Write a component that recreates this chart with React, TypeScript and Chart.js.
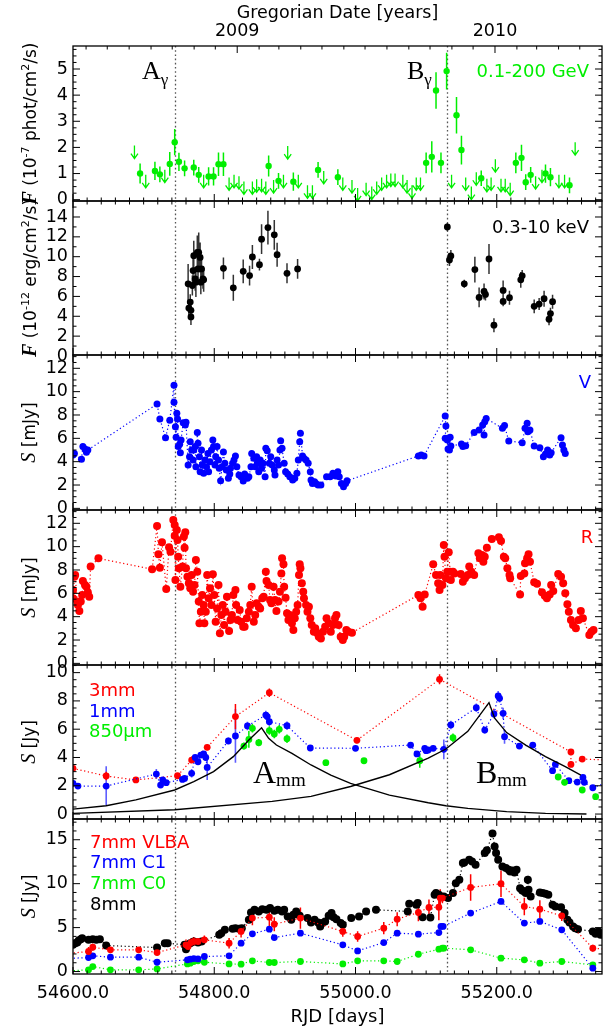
import { useEffect, useRef } from 'react';
import { Chart, registerables } from 'chart.js';

Chart.register(...registerables);

// ---------------- axes / ticks ----------------
const X_MIN = 54600;
const X_MAX = 55349;
const X_MAJOR_TICKS = [54600, 54800, 55000, 55200];
const X_MINOR_STEP = 20;
const YEAR_TICKS = [54832.5, 55197.5];
const YEAR_LABELS = ['2009', '2010'];
const MONTH_TICKS = [54618.5, 54648.5, 54679.5, 54710.5, 54740.5, 54771.5, 54801.5, 54832.5, 54863.5, 54891.5, 54922.5, 54952.5, 54983.5, 55013.5, 55044.5, 55075.5, 55105.5, 55136.5, 55166.5, 55197.5, 55228.5, 55256.5, 55287.5, 55317.5];
const FLARE_DAYS = [54745, 55129];

// ---------------- panel 1: gamma rays 0.1-200 GeV ----------------
const gamDetX = [54695, 54716, 54723, 54737, 54744, 54750, 54758, 54771, 54778, 54792, 54799, 54806, 54813, 54877, 54891, 54912, 54947, 54975, 55100, 55108, 55114, 55121, 55129, 55143, 55150, 55178, 55227, 55235, 55241, 55248, 55269, 55276, 55303];
const gamDetY = [1.0, 1.1, 0.97, 1.37, 2.2, 1.45, 1.2, 1.23, 0.95, 0.89, 0.89, 1.36, 1.36, 1.29, 0.72, 0.69, 1.14, 0.86, 1.41, 1.64, 4.18, 1.41, 4.92, 3.23, 1.9, 0.82, 1.41, 1.6, 0.67, 0.95, 1.0, 0.86, 0.55];
const gamDetErr = [0.38, 0.35, 0.3, 0.45, 0.5, 0.35, 0.3, 0.3, 0.3, 0.35, 0.35, 0.45, 0.45, 0.4, 0.3, 0.35, 0.3, 0.3, 0.4, 0.6, 0.7, 0.4, 0.7, 0.7, 0.55, 0.3, 0.4, 0.5, 0.3, 0.3, 0.35, 0.35, 0.3];
const gamUlX = [54687, 54703, 54730, 54785, 54821, 54828, 54835, 54842, 54854, 54860, 54867, 54873, 54884, 54898, 54904, 54919, 54932, 54939, 54955, 54982, 54995, 55003, 55015, 55023, 55030, 55037, 55044, 55050, 55056, 55067, 55073, 55080, 55086, 55092, 55136, 55156, 55164, 55171, 55186, 55192, 55198, 55206, 55212, 55219, 55255, 55264, 55288, 55296, 55311];
const gamUlY = [2.07, 0.95, 1.15, 0.95, 0.85, 0.95, 0.9, 0.7, 0.7, 0.78, 0.8, 0.7, 0.75, 0.95, 2.05, 0.95, 0.55, 0.55, 1.1, 0.85, 0.75, 0.45, 0.65, 0.5, 0.7, 0.85, 0.95, 1.0, 1.0, 0.95, 0.75, 0.55, 0.85, 0.85, 0.95, 0.85, 0.5, 1.05, 0.8, 0.85, 1.55, 0.8, 0.8, 0.65, 0.9, 1.15, 0.95, 0.95, 2.2];

// ---------------- panel 2: X-rays 0.3-10 keV ----------------
const xrayX = [54763, 54764, 54766, 54767, 54767, 54769, 54770, 54771, 54773, 54774, 54776, 54777, 54778, 54780, 54781, 54782, 54784, 54785, 54813, 54827, 54841, 54850, 54854, 54864, 54867, 54876, 54885, 54889, 54903, 54918, 55130, 55133, 55135, 55154, 55169, 55175, 55182, 55184, 55189, 55196, 55209, 55209, 55218, 55234, 55236, 55253, 55260, 55267, 55274, 55276, 55279];
const xrayY = [7.27, 4.83, 5.43, 4.6, 3.93, 7.1, 8.6, 10.1, 7.77, 7.43, 10.43, 8.77, 10.43, 9.93, 7.43, 8.77, 7.77, 7.67, 8.83, 6.87, 8.53, 8.1, 9.97, 9.2, 11.77, 12.93, 12.2, 10.2, 8.33, 8.77, 13.0, 9.67, 10.07, 7.27, 8.7, 5.9, 6.5, 6.2, 9.77, 3.1, 6.6, 5.5, 5.87, 7.67, 8.07, 5.0, 5.23, 5.77, 3.7, 4.27, 5.47];
const xrayErr = [2.0, 0.8, 0.8, 0.6, 0.8, 1.0, 1.2, 1.5, 1.2, 1.5, 1.7, 1.5, 2.0, 1.5, 1.2, 1.2, 1.0, 1.2, 1.1, 1.3, 1.2, 1.0, 1.2, 0.6, 1.5, 1.7, 1.5, 1.2, 1.0, 1.0, 0.4, 0.6, 0.6, 0.4, 1.3, 1.0, 0.8, 0.6, 1.5, 0.7, 1.0, 0.5, 0.7, 0.8, 0.6, 0.7, 0.6, 0.8, 0.6, 0.6, 0.7];

// ---------------- panel 3: optical V ----------------
const vBandX = [54600, 54602, 54612, 54614, 54617, 54619, 54621, 54719, 54723, 54731, 54737, 54743, 54743, 54745, 54746, 54747, 54748, 54749, 54751, 54752, 54753, 54756, 54759, 54760, 54763, 54765, 54766, 54768, 54770, 54771, 54773, 54774, 54776, 54777, 54779, 54780, 54782, 54783, 54785, 54787, 54789, 54791, 54792, 54794, 54796, 54798, 54799, 54801, 54802, 54804, 54806, 54807, 54809, 54811, 54813, 54815, 54817, 54820, 54822, 54823, 54826, 54828, 54830, 54832, 54835, 54838, 54841, 54843, 54847, 54849, 54852, 54853, 54856, 54858, 54860, 54861, 54863, 54865, 54867, 54869, 54872, 54873, 54875, 54878, 54880, 54882, 54885, 54886, 54889, 54891, 54893, 54894, 54896, 54899, 54901, 54904, 54907, 54911, 54914, 54917, 54919, 54921, 54922, 54925, 54927, 54930, 54933, 54936, 54937, 54939, 54942, 54944, 54947, 54951, 54959, 54964, 54968, 54972, 54975, 54977, 54980, 54983, 54986, 54988, 55089, 55093, 55097, 55127, 55128, 55127, 55130, 55131, 55133, 55134, 55135, 55150, 55152, 55156, 55168, 55175, 55180, 55182, 55183, 55185, 55208, 55211, 55217, 55236, 55240, 55243, 55244, 55247, 55253, 55261, 55266, 55269, 55272, 55275, 55277, 55291, 55293, 55295, 55297];
const vBandY = [4.57, 4.71, 4.2, 5.29, 5.09, 4.8, 5.0, 8.94, 7.66, 6.06, 7.54, 10.54, 9.09, 7.0, 6.09, 8.14, 7.66, 5.29, 5.49, 4.77, 5.86, 7.34, 7.14, 7.37, 3.71, 4.43, 5.71, 5.0, 4.14, 5.0, 5.29, 3.57, 6.49, 5.57, 4.43, 3.14, 5.0, 3.71, 3.0, 4.14, 3.57, 4.71, 3.14, 4.0, 5.0, 5.86, 5.29, 3.71, 4.43, 5.29, 4.14, 3.43, 2.37, 3.57, 4.83, 3.86, 3.29, 2.57, 2.94, 3.43, 3.86, 4.14, 4.49, 3.57, 2.86, 2.71, 2.34, 2.94, 2.57, 2.71, 3.57, 4.71, 4.29, 3.57, 4.43, 3.86, 3.14, 4.14, 3.43, 3.86, 2.71, 5.14, 4.94, 3.86, 4.43, 3.71, 3.29, 2.86, 4.14, 3.71, 5.0, 5.8, 5.14, 3.86, 3.14, 2.94, 2.71, 2.43, 2.57, 3.0, 4.14, 5.71, 6.43, 4.49, 4.29, 4.14, 3.86, 3.14, 2.43, 2.14, 2.29, 2.14, 2.0, 2.0, 2.71, 2.71, 3.0, 2.77, 3.14, 2.71, 2.14, 1.86, 2.14, 2.37, 4.49, 4.57, 4.49, 7.91, 7.06, 6.0, 5.86, 5.09, 5.0, 6.09, 5.34, 5.51, 5.29, 5.37, 6.51, 6.71, 7.14, 6.29, 7.43, 7.71, 6.86, 7.09, 5.77, 5.63, 6.86, 7.29, 6.57, 6.71, 5.34, 5.2, 4.43, 4.66, 5.0, 4.57, 4.77, 6.06, 5.43, 5.0, 4.71];

// ---------------- panel 4: optical R ----------------
const rBandX = [54600, 54600, 54602, 54603, 54606, 54607, 54609, 54611, 54613, 54614, 54617, 54619, 54621, 54623, 54625, 54636, 54712, 54719, 54721, 54723, 54726, 54732, 54736, 54738, 54742, 54744, 54744, 54745, 54747, 54748, 54749, 54750, 54752, 54755, 54757, 54758, 54759, 54760, 54762, 54764, 54766, 54768, 54770, 54772, 54774, 54776, 54778, 54779, 54781, 54783, 54785, 54786, 54788, 54790, 54792, 54794, 54796, 54798, 54800, 54802, 54804, 54806, 54808, 54810, 54812, 54814, 54816, 54818, 54821, 54823, 54825, 54827, 54830, 54831, 54833, 54836, 54838, 54841, 54843, 54846, 54849, 54851, 54853, 54856, 54858, 54860, 54863, 54865, 54868, 54870, 54873, 54874, 54877, 54879, 54881, 54884, 54886, 54888, 54891, 54893, 54895, 54896, 54898, 54899, 54901, 54903, 54905, 54907, 54910, 54912, 54914, 54916, 54918, 54920, 54921, 54922, 54924, 54926, 54927, 54930, 54932, 54934, 54936, 54938, 54941, 54943, 54946, 54948, 54951, 54954, 54957, 54959, 54962, 54965, 54968, 54971, 54973, 54976, 54979, 54982, 54984, 54987, 54990, 54995, 55089, 55092, 55095, 55098, 55110, 55114, 55117, 55119, 55120, 55123, 55125, 55126, 55128, 55130, 55132, 55134, 55135, 55138, 55140, 55149, 55152, 55155, 55159, 55161, 55164, 55168, 55174, 55176, 55179, 55181, 55183, 55186, 55193, 55203, 55206, 55210, 55212, 55215, 55218, 55219, 55233, 55234, 55239, 55240, 55243, 55245, 55247, 55253, 55257, 55264, 55268, 55271, 55275, 55277, 55280, 55287, 55291, 55294, 55297, 55300, 55302, 55305, 55308, 55312, 55316, 55319, 55322, 55331, 55334, 55337];
const rBandY = [6.29, 5.57, 7.43, 7.57, 5.29, 5.0, 4.49, 5.29, 5.86, 7.06, 6.71, 6.57, 6.09, 5.71, 8.29, 9.0, 8.06, 11.77, 9.34, 8.2, 10.37, 6.37, 9.94, 9.57, 12.29, 11.86, 10.94, 7.14, 11.43, 10.57, 9.14, 8.14, 6.57, 8.29, 10.86, 9.91, 11.23, 8.14, 7.43, 6.86, 6.43, 7.57, 6.14, 6.71, 8.86, 7.86, 5.29, 3.43, 4.43, 5.86, 5.0, 3.43, 4.43, 7.57, 5.57, 6.43, 5.0, 7.63, 5.86, 3.57, 4.71, 6.71, 2.57, 4.14, 5.0, 3.29, 4.43, 5.71, 2.77, 3.71, 4.14, 5.86, 6.29, 5.0, 3.71, 4.57, 3.57, 3.14, 3.14, 3.86, 4.43, 5.0, 6.57, 3.57, 4.14, 5.14, 4.86, 4.71, 5.57, 5.71, 7.86, 7.06, 6.71, 5.43, 5.14, 6.57, 5.43, 4.49, 5.29, 6.14, 7.71, 9.0, 8.49, 6.57, 5.63, 4.29, 3.71, 4.14, 3.43, 2.86, 3.86, 4.43, 5.0, 7.57, 8.49, 8.14, 6.86, 6.14, 5.57, 5.0, 4.43, 4.86, 3.86, 3.29, 2.71, 3.0, 2.57, 2.29, 2.14, 2.71, 3.14, 3.86, 3.43, 2.71, 3.29, 3.86, 4.14, 3.29, 2.29, 2.0, 2.29, 2.86, 2.71, 2.63, 5.86, 5.57, 4.86, 5.91, 8.49, 7.57, 6.86, 6.29, 7.57, 6.71, 10.14, 9.14, 7.29, 7.86, 9.51, 7.86, 7.14, 7.86, 7.71, 7.66, 7.0, 7.29, 7.57, 8.29, 7.86, 7.57, 9.43, 9.0, 9.29, 8.71, 9.14, 9.91, 10.66, 10.8, 10.49, 9.14, 9.0, 8.14, 7.57, 7.29, 5.91, 7.49, 7.71, 8.57, 9.0, 9.34, 8.71, 6.94, 6.83, 6.09, 5.8, 5.57, 5.91, 6.71, 6.2, 7.66, 7.43, 6.86, 6.0, 5.06, 4.43, 3.71, 3.29, 3.0, 3.71, 4.49, 3.86, 2.43, 2.71, 2.86];

// ---------------- panel 5: mm / sub-mm ----------------
const mm3X = [54600, 54647, 54689, 54748, 54768, 54771, 54790, 54830, 54878, 55002, 55119, 55305, 55305, 55321, 55365];
const mm3Y = [3.23, 2.69, 2.41, 2.71, 3.82, 3.89, 4.72, 6.89, 8.58, 5.21, 9.53, 4.39, 3.51, 3.89, 3.8];
const mm3Err = [0.15, 0.3, 0.15, 0.15, 0.15, 0.2, 0.2, 0.9, 0.3, 0.2, 0.35, 0.2, 0.2, 0.15, 0];
const mm1X = [54600, 54607, 54647, 54718, 54724, 54727, 54732, 54755, 54758, 54768, 54773, 54777, 54781, 54785, 54788, 54790, 54820, 54830, 54847, 54873, 54875, 54878, 54903, 54936, 55000, 55078, 55087, 55098, 55100, 55103, 55110, 55125, 55135, 55171, 55183, 55196, 55202, 55204, 55209, 55211, 55232, 55251, 55279, 55283, 55302, 55314, 55322, 55324, 55336, 55360];
const mm1Y = [2.17, 1.98, 1.98, 2.83, 2.05, 2.41, 2.22, 2.45, 2.52, 2.88, 4.0, 3.7, 4.17, 4.25, 4.0, 3.3, 5.17, 5.52, 6.23, 7.0, 6.89, 6.53, 6.25, 4.67, 4.65, 4.88, 4.25, 4.65, 4.48, 4.53, 4.65, 4.58, 6.3, 7.52, 5.94, 7.08, 8.35, 8.18, 7.12, 5.47, 4.81, 4.88, 3.07, 3.51, 2.36, 2.26, 2.59, 2.24, 1.86, 2.3];
const mm1Err = [0.15, 0.15, 1.4, 0.35, 0.15, 0.15, 0.15, 0.15, 0.15, 0.3, 0.2, 0.2, 0.2, 0.2, 0.2, 0.9, 0.25, 1.9, 0.3, 0.3, 0.3, 0.3, 0.3, 0.2, 0.2, 0.2, 0.2, 0.2, 0.2, 0.2, 0.2, 0.7, 0.3, 0.3, 0.25, 0.3, 0.35, 0.3, 0.4, 0.5, 0.2, 0.2, 0.2, 0.2, 0.15, 0.15, 0.15, 0.15, 0.15, 0];
const um850X = [54842, 54849, 54854, 54863, 54878, 54885, 54892, 54903, 54958, 55012, 55091, 55138, 55287, 55296, 55321, 55340];
const um850Y = [4.81, 5.28, 6.06, 5.05, 5.9, 5.66, 5.99, 5.33, 3.63, 3.77, 3.77, 5.4, 2.62, 2.24, 1.7, 1.23];
const um850Err = [0.25, 0.6, 0.3, 0.25, 0.3, 0.3, 0.3, 0.3, 0.2, 0.2, 0.5, 0.3, 0.2, 0.2, 0.2, 0.2];
const flareAX = [54600, 54647, 54689, 54744, 54771, 54799, 54827, 54849, 54867, 54877, 54888, 54910, 54937, 54965, 54993, 55048, 55103, 55128, 55159, 55214, 55269, 55327];
const flareAY = [0.35, 0.59, 1.0, 1.7, 2.29, 3.0, 4.06, 5.24, 6.1, 5.35, 4.88, 4.29, 3.47, 2.76, 2.17, 1.34, 0.8, 0.59, 0.4, 0.17, 0.05, 0.0];
const flareBX = [54600, 54744, 54882, 54937, 54993, 55048, 55103, 55128, 55159, 55189, 55197, 55214, 55241, 55269, 55297, 55319];
const flareBY = [0.05, 0.3, 0.9, 1.25, 1.95, 2.78, 3.95, 4.6, 5.85, 7.88, 6.78, 5.76, 4.88, 4.06, 3.35, 2.76];

// ---------------- panel 6: 7 mm / 8 mm ----------------
const mm8X = [54600, 54603, 54606, 54608, 54611, 54613, 54622, 54628, 54633, 54638, 54647, 54719, 54730, 54734, 54758, 54760, 54766, 54771, 54777, 54782, 54807, 54810, 54815, 54826, 54830, 54835, 54839, 54849, 54852, 54857, 54863, 54868, 54874, 54879, 54885, 54890, 54896, 54899, 54904, 54909, 54912, 54916, 54921, 54932, 54937, 54942, 54947, 54950, 54953, 54957, 54962, 54966, 54969, 54973, 54979, 54982, 54994, 55005, 55015, 55029, 55074, 55076, 55086, 55088, 55095, 55106, 55112, 55114, 55118, 55125, 55131, 55138, 55142, 55147, 55152, 55154, 55161, 55165, 55170, 55183, 55186, 55194, 55197, 55199, 55202, 55208, 55213, 55217, 55219, 55222, 55225, 55228, 55233, 55236, 55239, 55241, 55244, 55245, 55248, 55261, 55265, 55269, 55273, 55279, 55283, 55291, 55296, 55300, 55303, 55308, 55311, 55315, 55336, 55340, 55344, 55347, 55349];
const mm8Y = [3.04, 3.23, 3.3, 3.53, 3.68, 3.8, 3.61, 3.68, 3.61, 3.68, 2.96, 2.73, 3.23, 3.23, 3.04, 2.54, 3.23, 3.42, 3.3, 3.42, 4.18, 4.37, 4.75, 4.86, 4.94, 4.86, 4.94, 5.89, 6.72, 7.03, 6.84, 7.1, 7.03, 7.22, 6.91, 7.03, 6.84, 7.03, 6.27, 5.89, 6.46, 6.84, 6.34, 6.08, 5.58, 5.89, 5.58, 5.13, 5.51, 5.7, 6.34, 6.65, 6.19, 5.96, 5.51, 5.32, 6.08, 6.27, 6.84, 7.03, 6.84, 7.71, 7.6, 7.79, 6.19, 6.15, 8.74, 8.93, 8.74, 8.55, 8.36, 8.93, 10.06, 10.44, 12.34, 12.42, 12.72, 12.53, 12.15, 13.48, 13.79, 15.7, 14.24, 13.48, 12.72, 11.96, 11.77, 11.58, 11.39, 11.5, 11.28, 11.58, 9.49, 9.23, 9.11, 8.93, 10.44, 9.3, 8.55, 9.0, 8.93, 8.85, 8.74, 7.6, 7.41, 7.33, 6.65, 5.89, 5.58, 5.13, 4.94, 4.82, 4.56, 4.29, 4.56, 4.18, 4.37];
const vlbaX = [54585, 54622, 54628, 54653, 54693, 54719, 54760, 54763, 54767, 54771, 54777, 54786, 54821, 54838, 54854, 54878, 54885, 54922, 54982, 55003, 55040, 55059, 55089, 55104, 55118, 55120, 55123, 55163, 55206, 55239, 55261, 55292, 55336, 55365];
const vlbaY = [2.0, 2.28, 2.77, 2.47, 2.47, 2.16, 3.04, 2.85, 3.3, 3.42, 3.42, 3.61, 3.23, 4.56, 6.08, 6.19, 5.39, 6.08, 4.56, 3.99, 4.94, 5.96, 6.72, 7.29, 7.33, 8.36, 8.36, 9.57, 9.99, 7.41, 7.1, 6.34, 2.66, 2.45];
const vlbaErr = [0, 0.5, 0.4, 0.3, 0.3, 0.3, 0.6, 0.4, 0.5, 0.5, 0.3, 0.5, 0.6, 0.7, 0.8, 1.2, 0.8, 1.2, 0.6, 0.6, 0.7, 0.8, 1.0, 0.9, 1.5, 1.0, 0.6, 1.5, 1.5, 1.0, 1.0, 0.6, 0.4, 0];
const c1X = [54585, 54622, 54628, 54653, 54693, 54719, 54762, 54766, 54771, 54777, 54786, 54821, 54838, 54854, 54878, 54885, 54922, 54982, 55003, 55040, 55059, 55089, 55118, 55121, 55124, 55163, 55206, 55239, 55261, 55292, 55336];
const c1Y = [1.45, 1.6, 1.79, 1.63, 1.63, 1.06, 1.33, 1.41, 1.48, 1.44, 1.71, 1.79, 3.23, 4.29, 4.82, 3.87, 4.37, 3.04, 2.35, 3.3, 4.37, 4.25, 4.44, 5.13, 5.13, 6.65, 7.98, 5.51, 5.7, 4.75, 0.38];
const c0X = [54585, 54622, 54628, 54653, 54693, 54719, 54762, 54766, 54771, 54777, 54786, 54821, 54838, 54854, 54878, 54885, 54922, 54982, 55003, 55040, 55059, 55089, 55118, 55123, 55125, 55163, 55206, 55239, 55261, 55292, 55336];
const c0Y = [0.05, 0.19, 0.57, 0.19, 0.19, 0.3, 0.87, 0.95, 1.14, 1.22, 1.06, 0.87, 0.84, 1.22, 1.03, 1.03, 1.14, 0.87, 1.22, 1.22, 1.14, 1.97, 2.54, 2.66, 2.66, 2.47, 1.52, 1.33, 0.95, 1.14, 0.76];

// ---------------- styling ----------------
const SANS = '"DejaVu Sans", sans-serif';
const SERIF = '"Liberation Serif", "DejaVu Serif", serif';
const GREEN = '#00ee00';
const BLUE = '#0000ff';
const RED = '#ff0000';
const BLACK = '#000000';
const W = 610;
const H = 1028;

interface Part { t: string; font: string; dy?: number }
interface Label { parts: Part[]; x: number; y: number; color: string; align?: 'left' | 'center' | 'right' }
interface PanelSpec {
  top: number; bottom: number;
  yMin: number; yMax: number; yTicks: number[]; yMinor: number;
  title: Part[]; titleX: number;
  labels: Label[];
  datasets: any[];
  first?: boolean; last?: boolean;
}

const pts = (xs: number[], ys: number[]) => xs.map((x, i) => ({ x, y: ys[i] }));

function dots(xs: number[], ys: number[], color: string, radius: number, extra: any = {}) {
  return {
    data: pts(xs, ys),
    showLine: false,
    pointRadius: radius,
    pointHoverRadius: radius,
    pointBorderWidth: 0,
    pointBackgroundColor: color,
    pointBorderColor: color,
    backgroundColor: color,
    borderColor: color,
    clip: 0,
    ...extra,
  };
}
function dotted(xs: number[], ys: number[], color: string, radius: number, extra: any = {}) {
  return dots(xs, ys, color, radius, { showLine: true, borderWidth: 1.2, borderDash: [1.2, 2.6], tension: 0, ...extra });
}
function solidCurve(xs: number[], ys: number[]) {
  return { data: pts(xs, ys), showLine: true, pointRadius: 0, pointHoverRadius: 0, borderColor: BLACK, borderWidth: 1.4, tension: 0, clip: 0 };
}
const txt = (t: string, x: number, y: number, color: string, size = 18, align: 'left' | 'center' | 'right' = 'left'): Label =>
  ({ parts: [{ t, font: `${size}px ${SANS}` }], x, y, color, align });
const sub = (main: string, s: string, x: number, y: number, big: number, small: number, dy: number): Label =>
  ({ parts: [{ t: main, font: `${big}px ${SERIF}` }, { t: s, font: `${small}px ${SERIF}`, dy }], x, y, color: BLACK });

const fluxTitle = (exp: string, unit: string): Part[] => [
  { t: 'F', font: `italic bold 20px ${SERIF}` },
  { t: ' (10', font: `17px ${SANS}` },
  { t: exp, font: `11px ${SANS}`, dy: -7 },
  { t: ` ${unit}/cm`, font: `17px ${SANS}` },
  { t: '2', font: `11px ${SANS}`, dy: -7 },
  { t: '/s)', font: `17px ${SANS}` },
];
const sTitle = (unit: string): Part[] => [
  { t: 'S', font: `italic 20px ${SERIF}` },
  { t: ` [${unit}]`, font: `17px ${SANS}` },
];

const PANELS: PanelSpec[] = [
  {
    first: true, top: 46, bottom: 201, yMin: -0.05, yMax: 5.88, yTicks: [0, 1, 2, 3, 4, 5], yMinor: 0.25,
    title: fluxTitle('-7', 'phot'), titleX: 36,
    labels: [
      sub('A', 'γ', 142, 79, 26, 17, 6),
      sub('B', 'γ', 407, 79, 26, 17, 6),
      txt('0.1-200 GeV', 589, 77, GREEN, 18, 'right'),
    ],
    datasets: [
      dots(gamDetX, gamDetY, GREEN, 3.2, { errs: gamDetErr, errWidth: 1.5 }),
      dots(gamUlX, gamUlY, GREEN, 0, { upperLimit: true }),
    ],
  },
  {
    top: 201, bottom: 355, yMin: 0.1, yMax: 15.61, yTicks: [0, 2, 4, 6, 8, 10, 12, 14], yMinor: 1,
    title: fluxTitle('-12', 'erg'), titleX: 36,
    labels: [txt('0.3-10 keV', 589, 233, BLACK, 18, 'right')],
    datasets: [dots(xrayX, xrayY, BLACK, 3.4, { errs: xrayErr, errColor: '#333', errWidth: 1.5 })],
  },
  {
    top: 355, bottom: 510, yMin: -0.14, yMax: 13.14, yTicks: [0, 2, 4, 6, 8, 10, 12], yMinor: 0.5,
    title: sTitle('mJy'), titleX: 35,
    labels: [txt('V', 585, 388, BLUE, 18, 'center')],
    datasets: [dotted(vBandX, vBandY, BLUE, 3.5)],
  },
  {
    top: 510, bottom: 665, yMin: -0.14, yMax: 13.14, yTicks: [0, 2, 4, 6, 8, 10, 12], yMinor: 0.5,
    title: sTitle('mJy'), titleX: 35,
    labels: [txt('R', 587, 543, RED, 18, 'center')],
    datasets: [dotted(rBandX, rBandY, RED, 4)],
  },
  {
    top: 665, bottom: 819, yMin: -0.35, yMax: 10.54, yTicks: [0, 2, 4, 6, 8, 10], yMinor: 0.5,
    title: sTitle('Jy'), titleX: 35,
    labels: [
      txt('3mm', 89, 696, RED),
      txt('1mm', 89, 717, BLUE),
      txt('850μm', 89, 737, GREEN),
      sub('A', 'mm', 253, 783, 32, 19, 3),
      sub('B', 'mm', 476, 783, 32, 19, 3),
    ],
    datasets: [
      solidCurve(flareAX, flareAY),
      solidCurve(flareBX, flareBY),
      dots(um850X, um850Y, GREEN, 3.4, { errs: um850Err, errWidth: 1.5 }),
      dotted(mm1X, mm1Y, BLUE, 3.4, { errs: mm1Err, errColor: 'rgba(40,40,255,0.75)', errWidth: 1.6 }),
      dotted(mm3X, mm3Y, RED, 3.4, { errs: mm3Err, errWidth: 1.5 }),
    ],
  },
  {
    last: true, top: 819, bottom: 974, yMin: -0.28, yMax: 17.36, yTicks: [0, 5, 10, 15], yMinor: 1,
    title: sTitle('Jy'), titleX: 35,
    labels: [
      txt('7mm VLBA', 90, 848, RED),
      txt('7mm C1', 90, 868, BLUE),
      txt('7mm C0', 90, 889, GREEN),
      txt('8mm', 90, 910, BLACK),
    ],
    datasets: [
      dotted(vlbaX, vlbaY, RED, 3.4, { errs: vlbaErr, errWidth: 1.5 }),
      dotted(c1X, c1Y, BLUE, 3.4),
      dotted(c0X, c0Y, GREEN, 3.4),
      dotted(mm8X, mm8Y, BLACK, 4),
    ],
  },
];

function canvasGeom(spec: PanelSpec) {
  const top = spec.first ? 0 : spec.top - 20;
  const bottom = spec.last ? H : spec.bottom + 20;
  return { top, h: bottom - top };
}

function drawParts(ctx: CanvasRenderingContext2D, parts: Part[], x: number, y: number, align: string) {
  ctx.textBaseline = 'alphabetic';
  ctx.textAlign = 'left';
  const widths = parts.map((p) => { ctx.font = p.font; return ctx.measureText(p.t).width; });
  const total = widths.reduce((s, w) => s + w, 0);
  let cx = align === 'center' ? x - total / 2 : align === 'right' ? x - total : x;
  parts.forEach((p, i) => {
    ctx.font = p.font;
    ctx.fillText(p.t, cx, y + (p.dy || 0));
    cx += widths[i];
  });
}

function panelPlugin(spec: PanelSpec, canvasTop: number) {
  return {
    id: 'panelDecor',
    beforeDatasetsDraw(chart: any) {
      const { ctx, chartArea: a, scales } = chart;
      const xs = scales.x, ys = scales.y;
      ctx.save();
      ctx.beginPath();
      ctx.rect(a.left, a.top, a.right - a.left, a.bottom - a.top);
      ctx.clip();
      ctx.strokeStyle = '#555';
      ctx.lineWidth = 1.3;
      ctx.setLineDash([1.6, 2.6]);
      for (const d of FLARE_DAYS) {
        const px = Math.round(xs.getPixelForValue(d)) + 0.5;
        ctx.beginPath();
        ctx.moveTo(px, a.top);
        ctx.lineTo(px, a.bottom);
        ctx.stroke();
      }
      ctx.setLineDash([]);
      chart.data.datasets.forEach((ds: any) => {
        if (!ds.errs) return;
        ctx.strokeStyle = ds.errColor || ds.borderColor;
        ctx.lineWidth = ds.errWidth || 1.5;
        ctx.beginPath();
        ds.data.forEach((p: any, i: number) => {
          const e = ds.errs[i];
          if (!e) return;
          const px = xs.getPixelForValue(p.x);
          ctx.moveTo(px, ys.getPixelForValue(p.y - e));
          ctx.lineTo(px, ys.getPixelForValue(p.y + e));
        });
        ctx.stroke();
      });
      ctx.restore();
    },
    afterDatasetsDraw(chart: any) {
      const { ctx, scales } = chart;
      const xs = scales.x, ys = scales.y;
      chart.data.datasets.forEach((ds: any) => {
        if (!ds.upperLimit) return;
        ctx.save();
        ctx.strokeStyle = ds.borderColor;
        ctx.lineWidth = 1.3;
        ctx.beginPath();
        ds.data.forEach((p: any) => {
          const px = xs.getPixelForValue(p.x);
          const py = ys.getPixelForValue(p.y);
          const tip = py + 13;
          ctx.moveTo(px, py);
          ctx.lineTo(px, tip);
          ctx.moveTo(px - 3.5, tip - 5);
          ctx.lineTo(px, tip);
          ctx.lineTo(px + 3.5, tip - 5);
        });
        ctx.stroke();
        ctx.restore();
      });
    },
    afterDraw(chart: any) {
      const { ctx, chartArea: a, scales } = chart;
      const xs = scales.x, ys = scales.y;
      ctx.save();
      ctx.strokeStyle = '#000';
      ctx.lineWidth = 1;
      ctx.beginPath();
      for (let v = X_MIN; v <= X_MAX; v += X_MINOR_STEP) {
        const px = xs.getPixelForValue(v);
        const len = X_MAJOR_TICKS.includes(v) ? 7 : 3.5;
        ctx.moveTo(px, a.bottom);
        ctx.lineTo(px, a.bottom - len);
        if (!spec.first) {
          ctx.moveTo(px, a.top);
          ctx.lineTo(px, a.top + len);
        }
      }
      if (spec.first) {
        for (const m of MONTH_TICKS) {
          const px = xs.getPixelForValue(m);
          const len = YEAR_TICKS.includes(m) ? 7 : 3.5;
          ctx.moveTo(px, a.top);
          ctx.lineTo(px, a.top + len);
        }
      }
      const start = Math.ceil(spec.yMin / spec.yMinor - 1e-9);
      for (let k = start; k * spec.yMinor <= spec.yMax + 1e-9; k++) {
        const v = k * spec.yMinor;
        const py = ys.getPixelForValue(v);
        const major = spec.yTicks.some((t) => Math.abs(t - v) < 1e-6);
        const len = major ? 7 : 3.5;
        ctx.moveTo(a.left, py);
        ctx.lineTo(a.left + len, py);
        ctx.moveTo(a.right, py);
        ctx.lineTo(a.right - len, py);
      }
      ctx.stroke();
      ctx.lineWidth = 1.3;
      ctx.strokeRect(a.left, a.top, a.right - a.left, a.bottom - a.top);
      ctx.fillStyle = '#000';
      ctx.save();
      ctx.translate(spec.titleX, (a.top + a.bottom) / 2);
      ctx.rotate(-Math.PI / 2);
      drawParts(ctx, spec.title, 0, 0, 'center');
      ctx.restore();
      for (const l of spec.labels) {
        ctx.fillStyle = l.color;
        drawParts(ctx, l.parts, l.x, l.y - canvasTop, l.align || 'left');
      }
      ctx.restore();
    },
  };
}

function makeConfig(spec: PanelSpec): any {
  const g = canvasGeom(spec);
  const tickFont = { family: SANS, size: 17.5 };
  const scales: any = {
    x: {
      type: 'linear', position: 'bottom', min: X_MIN, max: X_MAX,
      display: !!spec.last,
      afterBuildTicks: (s: any) => { s.ticks = X_MAJOR_TICKS.map((v) => ({ value: v })); },
      grid: { display: false, drawTicks: false },
      border: { display: false },
      ticks: { autoSkip: false, maxRotation: 0, padding: 8.5, color: '#000', font: tickFont, callback: (v: any) => Number(v).toFixed(1) },
      title: { display: true, text: 'RJD [days]', color: '#000', font: { family: SANS, size: 18 }, padding: { top: 0, bottom: 0 } },
    },
    y: {
      type: 'linear', position: 'left', min: spec.yMin, max: spec.yMax,
      afterBuildTicks: (s: any) => { s.ticks = spec.yTicks.map((v) => ({ value: v })); },
      afterFit: (s: any) => { s.width = 73; },
      grid: { display: false, drawTicks: false },
      border: { display: false },
      ticks: { autoSkip: false, padding: 5, color: '#000', font: tickFont, callback: (v: any) => String(v) },
    },
  };
  if (spec.last) scales.x.afterFit = (s: any) => { s.height = 54; };
  if (spec.first) {
    scales.x2 = {
      type: 'linear', position: 'top', min: X_MIN, max: X_MAX,
      afterBuildTicks: (s: any) => { s.ticks = YEAR_TICKS.map((v) => ({ value: v })); },
      afterFit: (s: any) => { s.height = 46; },
      grid: { display: false, drawTicks: false },
      border: { display: false },
      ticks: { autoSkip: false, maxRotation: 0, padding: 4.5, color: '#000', font: tickFont, callback: (_v: any, i: number) => YEAR_LABELS[i] },
      title: { display: true, text: 'Gregorian Date [years]', color: '#000', font: { family: SANS, size: 17.5 }, padding: { top: 2.5, bottom: 0 } },
    };
  }
  return {
    type: 'scatter',
    data: { datasets: spec.datasets },
    options: {
      animation: false,
      responsive: false,
      maintainAspectRatio: false,
      devicePixelRatio: 1,
      events: [],
      layout: { padding: { left: 0, right: W - 602, top: spec.first ? 0 : spec.top - g.top, bottom: spec.last ? 0 : g.top + g.h - spec.bottom } },
      plugins: { legend: { display: false }, tooltip: { enabled: false }, title: { display: false } },
      scales,
    },
    plugins: [panelPlugin(spec, g.top)],
  };
}

export default function App() {
  const refs = useRef<(HTMLCanvasElement | null)[]>([]);
  useEffect(() => {
    const charts = PANELS.map((spec, i) => new Chart(refs.current[i] as HTMLCanvasElement, makeConfig(spec)));
    return () => charts.forEach((c) => c.destroy());
  }, []);
  return (
    <div style={{ position: 'absolute', left: 0, top: 0, width: W, height: H, background: '#fff', overflow: 'hidden' }}>
      {PANELS.map((spec, i) => {
        const g = canvasGeom(spec);
        return (
          <canvas
            key={i}
            ref={(el) => { refs.current[i] = el; }}
            width={W}
            height={g.h}
            style={{ position: 'absolute', left: 0, top: g.top, width: W, height: g.h }}
          />
        );
      })}
    </div>
  );
}
